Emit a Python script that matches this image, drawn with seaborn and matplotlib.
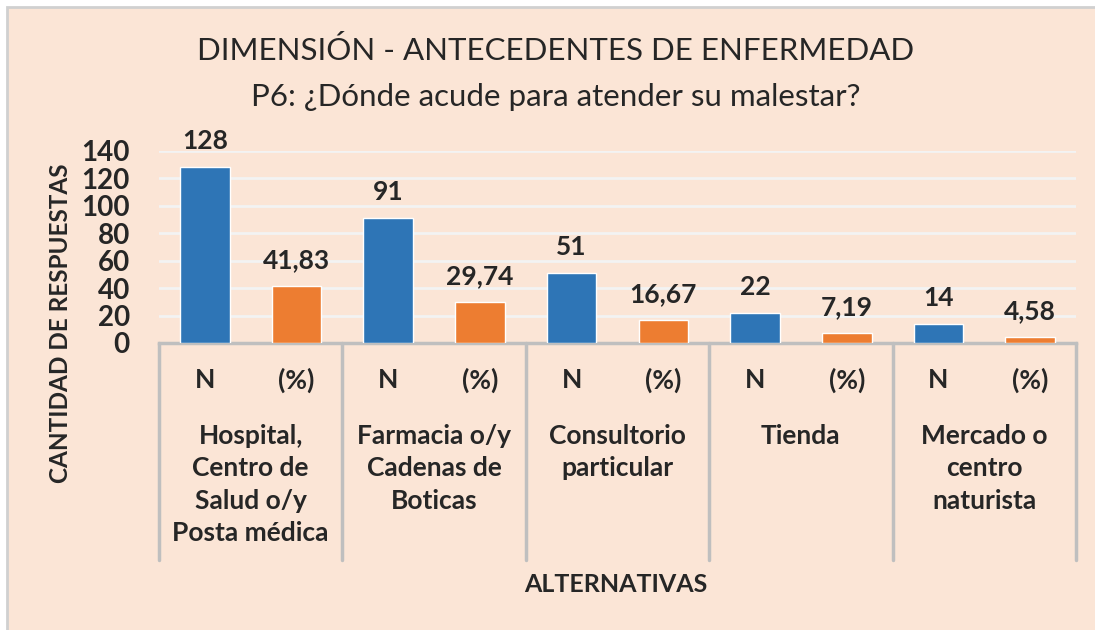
import pandas as pd
import matplotlib.pyplot as plt
import matplotlib.transforms as mtransforms
from matplotlib.patches import Rectangle
import seaborn as sns

# Datos del gráfico
grupos = ["Hospital,\nCentro de\nSalud o/y\nPosta médica",
          "Farmacia o/y\nCadenas de\nBoticas",
          "Consultorio\nparticular",
          "Tienda",
          "Mercado o\ncentro\nnaturista"]
n_valores = [128, 91, 51, 22, 14]
pct_valores = [41.83, 29.74, 16.67, 7.19, 4.58]
series = ["N", "(%)"]
y_ticks = [0, 20, 40, 60, 80, 100, 120, 140]

filas = []
for i, g in enumerate(grupos):
    filas.append({"barra": f"{i}-N", "valor": n_valores[i], "tipo": "N"})
    filas.append({"barra": f"{i}-P", "valor": pct_valores[i], "tipo": "(%)"})
df = pd.DataFrame(filas)

sns.set_style("white")
plt.rcParams["font.family"] = ["Lato", "DejaVu Sans"]

fondo = "#FBE5D6"
azul = "#2E75B6"
naranja = "#ED7D31"
gris = "#BFBFBF"

fig = plt.figure(figsize=(10.95, 6.3), dpi=100)
fig.patch.set_facecolor("white")
fig.patches.append(Rectangle((7 / 1095, -0.01), 1.02, 1 - 7 / 630 + 0.01,
                             transform=fig.transFigure, facecolor=fondo,
                             edgecolor="#D0D0D0", linewidth=2, zorder=-10))

ax = fig.add_axes([159 / 1095, 1 - 343 / 630, (1076 - 159) / 1095, (343 - 150.7) / 630])
ax.set_facecolor(fondo)
ax.patch.set_alpha(0)

sns.barplot(data=df, x="barra", y="valor", hue="tipo", dodge=False,
            palette={"N": azul, "(%)": naranja}, width=0.54, legend=False,
            saturation=1, ax=ax, zorder=3)

ax.set_ylim(0, 140)
ax.set_xlim(-0.5, 9.5)
ax.set_yticks(y_ticks)
ax.yaxis.grid(True, color="#F3F3F3", linewidth=2, zorder=0)
ax.tick_params(axis="y", length=0, pad=21, labelsize=20)
for t in ax.get_yticklabels():
    t.set_fontweight("bold")
ax.tick_params(axis="x", length=0, labelbottom=False)
ax.set_xlabel("")
ax.set_ylabel("")
for s in ["top", "right", "left"]:
    ax.spines[s].set_visible(False)
ax.spines["bottom"].set_color(gris)
ax.spines["bottom"].set_linewidth(2.5)

# Etiquetas de datos
for i in range(len(grupos)):
    ax.annotate(f"{n_valores[i]}", (2 * i, n_valores[i]), xytext=(0, 10),
                textcoords="offset points", ha="center", va="bottom",
                fontsize=19, fontweight="bold")
    ax.annotate(f"{pct_valores[i]:.2f}".replace(".", ","), (2 * i + 1, pct_valores[i]),
                xytext=(0, 10), textcoords="offset points", ha="center", va="bottom",
                fontsize=19, fontweight="bold")

# Eje de categorías multinivel
trans = mtransforms.blended_transform_factory(ax.transData, fig.transFigure)
for k in range(len(grupos) + 1):
    ax.plot([2 * k - 0.5, 2 * k - 0.5], [1 - 343 / 630, 1 - 560 / 630], color=gris,
            linewidth=2.5, transform=trans, clip_on=False)
for i, g in enumerate(grupos):
    for j, s in enumerate(series):
        ax.text(2 * i + j, 1 - 380 / 630, s, ha="center", va="center", fontsize=19,
                fontweight="bold", transform=trans)
    ax.text(2 * i + 0.5, 1 - 424 / 630, g, ha="center", va="top", fontsize=19,
            fontweight="bold", linespacing=1.42, transform=trans)

fig.text(616 / 1095, 1 - 585 / 630, "ALTERNATIVAS", ha="center", va="center",
         fontsize=18, fontweight="bold")
fig.text(61 / 1095, 1 - 323 / 630, "CANTIDAD DE RESPUESTAS", ha="center", va="center",
         rotation=90, fontsize=17.5, fontweight="bold")

fig.text(556 / 1095, 1 - 50 / 630, "DIMENSIÓN - ANTECEDENTES DE ENFERMEDAD",
         ha="center", va="center", fontsize=22.5)
fig.text(556 / 1095, 1 - 97 / 630, "P6: ¿Dónde acude para atender su malestar?",
         ha="center", va="center", fontsize=22.5)

fig.savefig("out.png", dpi=100, facecolor=fig.get_facecolor())
